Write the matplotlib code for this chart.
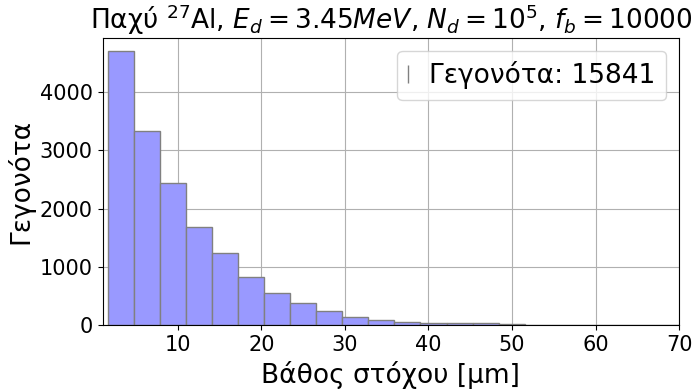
import numpy as np
import matplotlib
matplotlib.use("Agg")
import matplotlib.pyplot as plt

# histogram of target depth (counts per bin)
bin_start = 1.6
bin_width = 3.12
counts = [4697, 3325, 2445, 1688, 1233, 826, 552, 374, 242, 150,
          92, 63, 41, 39, 36, 21, 9, 3, 2, 1, 1, 1]
edges = bin_start + bin_width * np.arange(len(counts) + 1)
centers = 0.5 * (edges[:-1] + edges[1:])
n_events = int(sum(counts))

fig, ax = plt.subplots(figsize=(6.93, 3.91), dpi=100)
ax.hist(centers, bins=edges, weights=counts, color='#9999ff',
        edgecolor='gray', linewidth=1.0,
        label='Γεγονότα: %d' % n_events)
ax.set_xlim(1.0, 70)
ax.set_xticks([10, 20, 30, 40, 50, 60, 70])
ax.set_yticks([0, 1000, 2000, 3000, 4000])
ax.grid(True, color='#b0b0b0', linewidth=0.8)
ax.set_axisbelow(True)
ax.tick_params(labelsize=15)
ax.set_xlabel('Βάθος στόχου [μm]', fontsize=19)
ax.set_ylabel('Γεγονότα', fontsize=19)
ax.set_title(r'Παχύ $^{27}$Al, $E_d = 3.45MeV$, $N_d = 10^5$, $f_b = 10000$',
             fontsize=19)
ax.legend(fontsize=19, handlelength=0, handletextpad=0.8, loc='upper right')
fig.subplots_adjust(left=0.148, right=0.98, top=0.904, bottom=0.168)
fig.savefig('out.png', dpi=100)
